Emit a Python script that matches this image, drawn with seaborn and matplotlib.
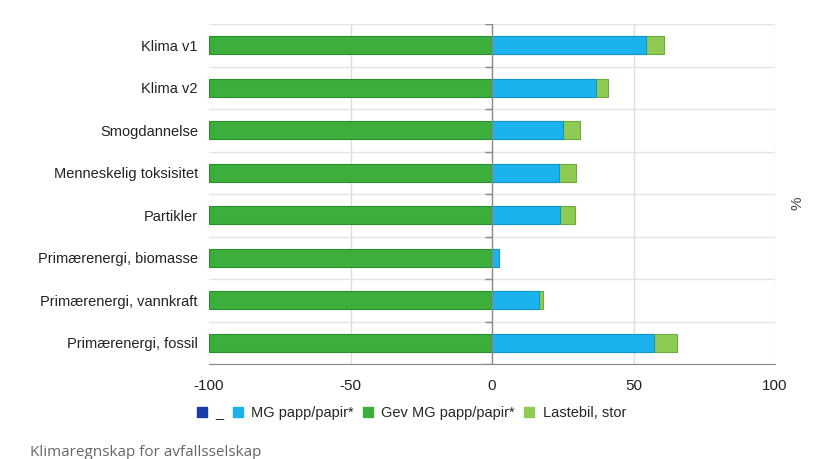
import numpy as np
import pandas as pd
import seaborn as sns
import matplotlib.pyplot as plt
from matplotlib.lines import Line2D

# categories and values (percent)
categories = ['Klima v1', 'Klima v2', 'Smogdannelse', 'Menneskelig toksisitet',
              'Partikler', 'Primærenergi, biomasse', 'Primærenergi, vannkraft',
              'Primærenergi, fossil']
blank = [0, 0, 0, 0, 0, 0, 0, 0]
mg_papp = [54.3, 36.6, 25.0, 23.7, 24.1, 2.4, 16.5, 57.3]
gev_mg_papp = [-100, -100, -100, -100, -100, -100, -100, -100]
lastebil = [6.6, 4.5, 6.0, 5.9, 5.1, 0.2, 1.6, 8.0]
series_names = ['_', 'MG papp/papir*', 'Gev MG papp/papir*', 'Lastebil, stor']
colors = ['#1a3aa8', '#1cb2ee', '#3cae3c', '#8fca52']
edges = ['#10287a', '#0f96cc', '#2a8d2a', '#6fab3c']

df = pd.DataFrame({'kategori': categories, 'blank': blank, 'mg': mg_papp,
                   'gev': gev_mg_papp, 'last': lastebil})
df['top'] = df['mg'] + df['last']

sns.set_style('white')
plt.rcParams['font.family'] = ['Liberation Sans', 'DejaVu Sans']

fig = plt.figure(figsize=(8.38, 4.59), dpi=100)
ax = fig.add_axes([209 / 838, 1 - 364 / 459, 566 / 838, 340 / 459])

bw = 0.43
sns.barplot(data=df, x='gev', y='kategori', color=colors[2], width=bw, ax=ax, saturation=1,
            edgecolor=edges[2], linewidth=0.8, orient='h')
sns.barplot(data=df, x='top', y='kategori', color=colors[3], width=bw, ax=ax, saturation=1,
            edgecolor=edges[3], linewidth=0.8, orient='h')
sns.barplot(data=df, x='mg', y='kategori', color=colors[1], width=bw, ax=ax, saturation=1,
            edgecolor=edges[1], linewidth=0.8, orient='h')

ax.set_xlim(-100, 100)
ax.set_ylim(len(categories) - 0.5, -0.5)
ax.set_xticks([-100, -50, 0, 50, 100])
ax.set_xticklabels(['-100', '-50', '0', '50', '100'])
ax.set_xlabel('')
ax.set_ylabel('')

# grid
ax.set_axisbelow(True)
for xv in [-50, 50, 100]:
    ax.axvline(xv, color='#dddddd', lw=1, zorder=0)
for i in range(len(categories) + 1):
    ax.axhline(i - 0.5, color='#e4e4e4', lw=1, zorder=0)
ax.axvline(0, color='#888888', lw=1, zorder=5)
ax.hlines(np.arange(len(categories) + 1) - 0.5, -2.5, 0, color='#888888', lw=1, zorder=5)

for s in ['top', 'right', 'left']:
    ax.spines[s].set_visible(False)
ax.spines['bottom'].set_color('#888888')
ax.tick_params(axis='x', length=5, color='#888888', labelsize=11, labelcolor='#222222', pad=6)
ax.tick_params(axis='y', length=0, labelsize=10.5, labelcolor='#222222', pad=8)

fig.text(797 / 838, 1 - 203 / 459, '%', rotation=90, ha='center', va='center',
         fontsize=11, color='#444444')

handles = [Line2D([], [], marker='s', linestyle='', markersize=7,
                  markerfacecolor=c, markeredgecolor=c) for c in colors]
fig.legend(handles, series_names, loc='center', bbox_to_anchor=(411 / 838, 1 - 413 / 459),
           ncol=4, frameon=False, fontsize=10.5, handlelength=0.8, handletextpad=0.5,
           columnspacing=0.6)

fig.text(30 / 838, 1 - 453 / 459, 'Klimaregnskap for avfallsselskap', ha='left', va='center',
         fontsize=11, color='#666666', family=['Open Sans', 'DejaVu Sans'])

fig.savefig('out.png', dpi=100)
